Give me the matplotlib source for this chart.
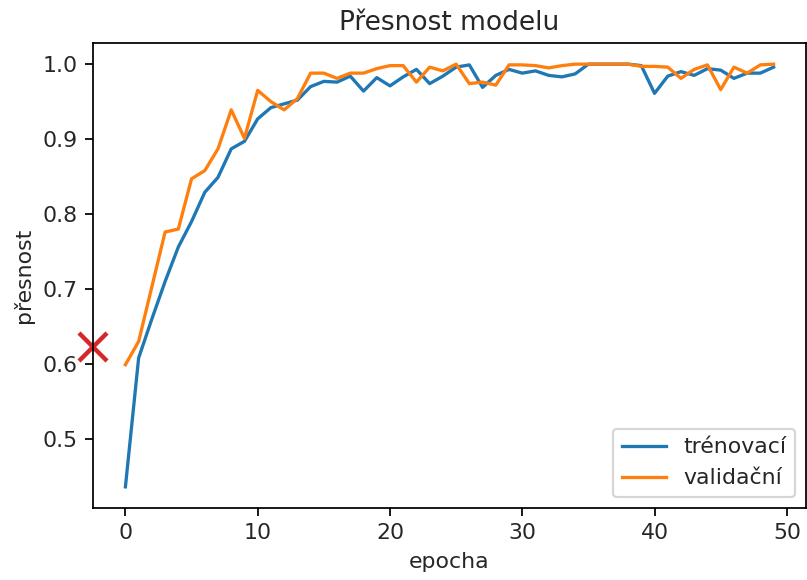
import numpy as np
import matplotlib
matplotlib.use('Agg')
import matplotlib.pyplot as plt

# accuracy per epoch
epochs = np.arange(50)
train_acc = [0.436, 0.608, 0.660, 0.710, 0.756, 0.790, 0.829, 0.849, 0.887, 0.897,
             0.927, 0.942, 0.947, 0.952, 0.970, 0.977, 0.976, 0.984, 0.964, 0.982,
             0.971, 0.983, 0.993, 0.974, 0.984, 0.996, 0.999, 0.969, 0.985, 0.993,
             0.988, 0.991, 0.985, 0.983, 0.987, 1.000, 1.000, 1.000, 1.000, 0.998,
             0.961, 0.984, 0.990, 0.985, 0.994, 0.992, 0.981, 0.988, 0.988, 0.996]
val_acc = [0.599, 0.630, 0.703, 0.776, 0.780, 0.847, 0.858, 0.887, 0.939, 0.901,
           0.965, 0.950, 0.939, 0.954, 0.988, 0.988, 0.981, 0.988, 0.988, 0.994,
           0.998, 0.998, 0.976, 0.996, 0.991, 1.000, 0.974, 0.976, 0.972, 0.999,
           0.999, 0.998, 0.995, 0.998, 1.000, 1.000, 1.000, 1.000, 1.000, 0.997,
           0.997, 0.996, 0.981, 0.993, 0.999, 0.966, 0.996, 0.988, 0.999, 1.000]
marker_y = 0.623

plt.rcParams['text.color'] = '#262626'
plt.rcParams['axes.labelcolor'] = '#262626'
plt.rcParams['xtick.labelcolor'] = '#262626'
plt.rcParams['ytick.labelcolor'] = '#262626'

dpi = 158
fig = plt.figure(figsize=(807 / dpi, 580 / dpi), dpi=dpi)
ax = fig.add_axes([93 / 807, 1 - 508 / 580, 713 / 807, 465 / 580])

ax.plot(epochs, train_acc, label='trénovací')
ax.plot(epochs, val_acc, label='validační')
ax.set_title('Přesnost modelu')
ax.set_ylabel('přesnost')
ax.set_xlabel('epocha')
ax.legend(loc='lower right')

# marker sits on the left spine, keep limits as they are
xmin, xmax = ax.get_xlim()
ymin, ymax = ax.get_ylim()
ax.plot([xmin], [marker_y], 'x', color='tab:red', markersize=13, mew=2, clip_on=False)
ax.set_xlim(xmin, xmax)
ax.set_ylim(ymin, ymax)

fig.savefig('out.png', dpi=dpi)
